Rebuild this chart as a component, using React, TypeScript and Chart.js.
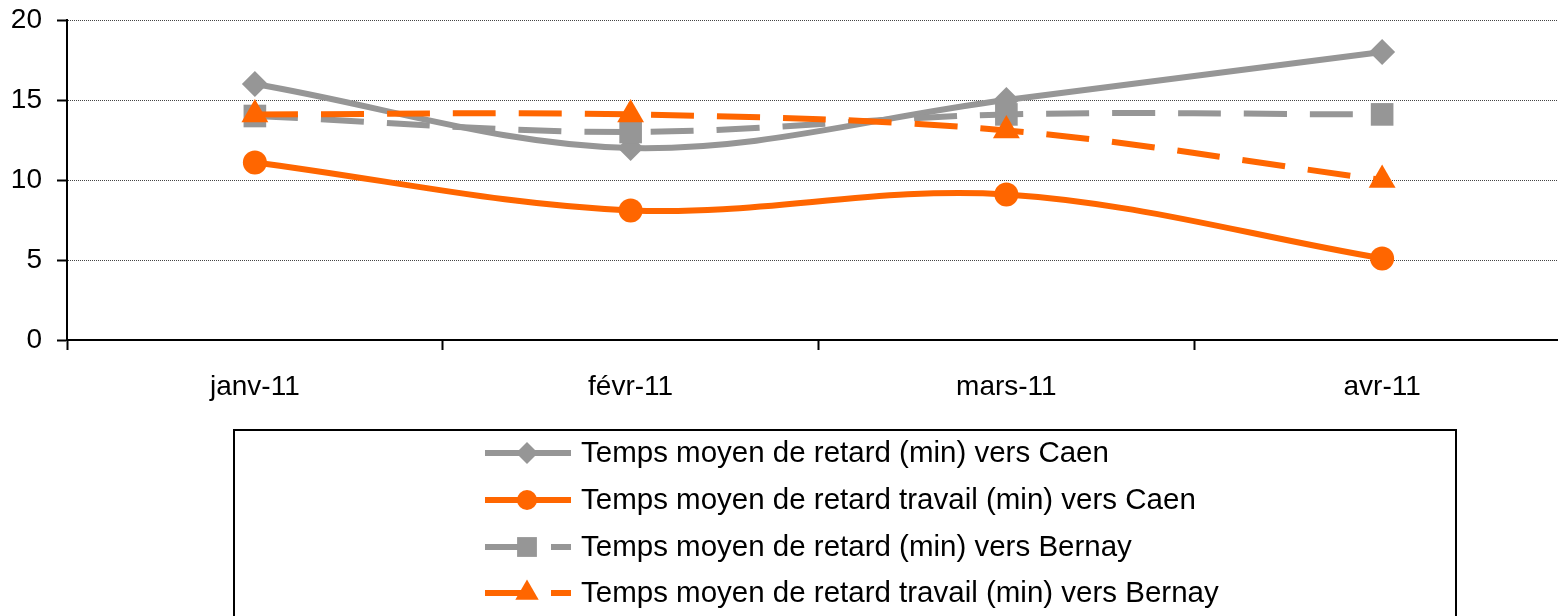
import React, { useEffect, useRef } from 'react';
import { Chart, registerables } from 'chart.js';

Chart.register(...registerables);

const categories = ['janv-11', 'févr-11', 'mars-11', 'avr-11'];
const seriesLabels = [
  'Temps moyen de retard (min) vers Caen',
  'Temps moyen de retard travail (min) vers Caen',
  'Temps moyen de retard (min) vers Bernay',
  'Temps moyen de retard travail (min) vers Bernay',
];
const caen = [16, 12, 15, 18];
const caenTravail = [11.1, 8.1, 9.1, 5.1];
const bernay = [14, 13, 14.1, 14.1];
const bernayTravail = [14.1, 14.1, 13.1, 10];
const yMin = 0;
const yMax = 20;
const yStep = 5;

const GRAY = '#969696';
const ORANGE = '#FF6600';
const FONT = "'Liberation Sans', Arial, sans-serif";

const seriesValues = [caen, caenTravail, bernay, bernayTravail];
const seriesColors = [GRAY, ORANGE, GRAY, ORANGE];
const seriesStyles = ['rectRot', 'circle', 'rect', 'triangle'];
const seriesRadius = [13, 12, 16, 15.5];
const legendRadius = [11, 10, 14, 13.5];
const seriesDash: number[][] = [[], [], [43, 23], [43, 23]];

function drawMarker(ctx: CanvasRenderingContext2D, style: string, x: number, y: number, r: number, color: string) {
  ctx.save();
  ctx.fillStyle = color;
  ctx.beginPath();
  if (style === 'circle') {
    ctx.arc(x, y, r, 0, Math.PI * 2);
  } else if (style === 'rectRot') {
    ctx.moveTo(x, y - r);
    ctx.lineTo(x + r, y);
    ctx.lineTo(x, y + r);
    ctx.lineTo(x - r, y);
    ctx.closePath();
  } else if (style === 'rect') {
    const s = r * Math.SQRT1_2;
    ctx.rect(x - s, y - s, 2 * s, 2 * s);
  } else if (style === 'triangle') {
    const a = (2 * Math.PI) / 3;
    ctx.moveTo(x, y - r);
    ctx.lineTo(x + Math.sin(a) * r, y - Math.cos(a) * r);
    ctx.lineTo(x - Math.sin(a) * r, y - Math.cos(a) * r);
    ctx.closePath();
  }
  ctx.fill();
  ctx.restore();
}

const LEGEND_ROWS = [453, 500, 547, 593];

const boxLegend = {
  id: 'boxLegend',
  afterDraw(chart: any) {
    const ctx: CanvasRenderingContext2D = chart.ctx;
    ctx.save();
    ctx.strokeStyle = '#000';
    ctx.lineWidth = 2;
    ctx.setLineDash([]);
    ctx.strokeRect(234, 430, 1456 - 234, 220);
    seriesLabels.forEach((label, i) => {
      const y = LEGEND_ROWS[i];
      ctx.save();
      ctx.strokeStyle = seriesColors[i];
      ctx.lineWidth = 6;
      ctx.lineCap = 'butt';
      ctx.setLineDash(seriesDash[i]);
      ctx.beginPath();
      ctx.moveTo(485, y);
      ctx.lineTo(571, y);
      ctx.stroke();
      ctx.restore();
      drawMarker(ctx, seriesStyles[i], 527, y, legendRadius[i], seriesColors[i]);
      ctx.fillStyle = '#000';
      ctx.font = `29.5px ${FONT}`;
      ctx.textAlign = 'left';
      ctx.textBaseline = 'middle';
      ctx.fillText(label, 581, y + 1);
    });
    ctx.restore();
  },
};

export default function App() {
  const ref = useRef<HTMLCanvasElement | null>(null);

  useEffect(() => {
    document.body.style.margin = '0';
    const canvas = ref.current;
    if (!canvas) return;
    const chart = new Chart(canvas, {
      type: 'line',
      data: {
        labels: categories,
        datasets: seriesLabels.map((label, i) => ({
          label,
          data: seriesValues[i],
          borderColor: seriesColors[i],
          backgroundColor: seriesColors[i],
          borderWidth: 6,
          borderDash: seriesDash[i],
          borderCapStyle: 'butt',
          tension: 0.35,
          fill: false,
          pointStyle: seriesStyles[i],
          pointRadius: seriesRadius[i],
          pointBorderWidth: 0,
          pointBackgroundColor: seriesColors[i],
          pointBorderColor: seriesColors[i],
          order: 4 - i,
        })) as any,
      },
      options: {
        responsive: false,
        animation: false,
        events: [],
        layout: { padding: { top: 20, right: 2, left: 0, bottom: 0 } },
        plugins: {
          legend: { display: false },
          tooltip: { enabled: false },
        },
        scales: {
          x: {
            type: 'category',
            offset: true,
            grid: {
              offset: true,
              drawOnChartArea: false,
              drawTicks: true,
              tickLength: 10,
              tickColor: '#000',
              tickWidth: 2,
            },
            border: { display: true, color: '#000', width: 2 },
            ticks: {
              font: { family: FONT, size: 28 },
              color: '#000',
              padding: 20,
              maxRotation: 0,
              autoSkip: false,
            },
            afterFit: (s: any) => {
              s.height = 276;
            },
          },
          y: {
            min: yMin,
            max: yMax,
            ticks: {
              stepSize: yStep,
              font: { family: FONT, size: 28 },
              color: '#000',
              padding: 15,
            },
            grid: {
              color: '#444',
              lineWidth: 1,
              tickLength: 10,
              tickColor: '#000',
              tickWidth: 2,
              tickBorderDash: [],
            },
            border: { display: true, color: '#000', width: 2, dash: [1, 1] },
            afterFit: (s: any) => {
              s.width = 67;
              s.paddingTop = 0;
              s.paddingBottom = 0;
            },
          },
        },
      } as any,
      plugins: [boxLegend],
    });
    return () => chart.destroy();
  }, []);

  return (
    <div style={{ width: 1558, height: 616, overflow: 'hidden', position: 'relative' }}>
      <canvas ref={ref} width={1586} height={616} style={{ display: 'block' }} />
    </div>
  );
}
